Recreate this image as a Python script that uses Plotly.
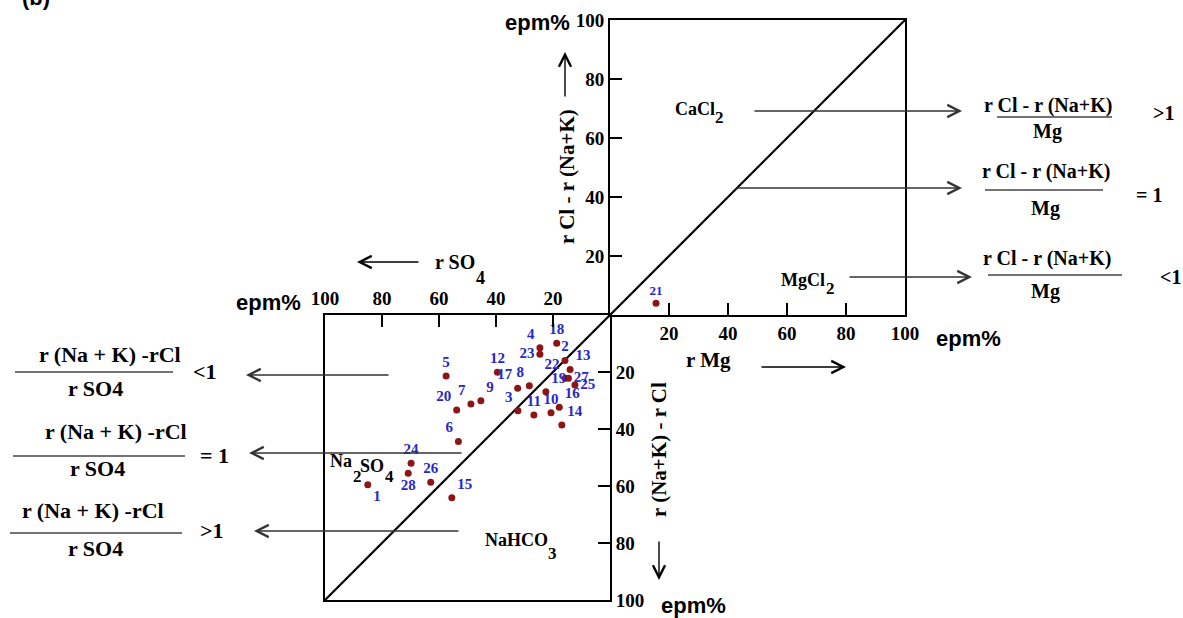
import plotly.graph_objects as go

W, H = 1183, 618

# ---- data: lower-left square (r SO4 epm% vs r(Na+K)-rCl epm%) ----
sample_ids = ['1', '2', '3', '4', '5', '6', '7', '8', '9', '10', '11', '12', '13', '14',
              '15', '16', '17', '18', '19', '20', '22', '23', '24', '25', '26', '27', '28']
r_so4 = [85.0, 15.8, 32.3, 24.6, 57.5, 53.2, 48.8, 28.3, 45.3, 20.7, 26.7, 39.5, 14.0, 16.9,
         55.5, 17.8, 32.4, 18.7, 22.5, 53.8, 15.8, 24.6, 69.8, 12.3, 62.9, 14.6, 70.8]
r_nak_cl = [59.6, 16.0, 33.6, 11.5, 21.4, 44.4, 31.2, 24.8, 30.1, 34.3, 35.1, 20.1, 19.1, 38.6,
            64.1, 32.4, 25.7, 9.9, 26.9, 33.3, 22.2, 13.8, 52.0, 24.6, 58.7, 22.2, 55.5]
# ---- data: upper-right square (r Mg epm% vs rCl - r(Na+K) epm%) ----
mg_ids = ['21']
r_mg = [15.6]
r_cl_nak = [4.0]

tick_vals = [20, 40, 60, 80, 100]
tick_text = ['20', '40', '60', '80', '100']

# label placement (style)
label_pos = ['bottom right', 'top center', 'top left', 'top left', 'top center', 'top left',
             'top left', 'top left', 'top right', 'top center', 'top center', 'top center',
             'top right', 'top right', 'top right', 'top right', 'top left', 'top center',
             'top right', 'top left', 'top left', 'middle left', 'top center', 'middle right',
             'top center', 'middle right', 'bottom center']

SERIF = 'Liberation Serif'
SANS = 'Liberation Sans'
DOT = '#8e1515'
LAB = '#2727c9'


def px(x):
    return x / W


def py(y):
    return 1 - y / H


fig = go.Figure()

# diagonals
fig.add_trace(go.Scatter(x=[0, 100], y=[0, 100], mode='lines', line=dict(color='black', width=2.2),
                         xaxis='x', yaxis='y', hoverinfo='skip'))
fig.add_trace(go.Scatter(x=[0, 100], y=[0, 100], mode='lines', line=dict(color='black', width=2.2),
                         xaxis='x2', yaxis='y2', hoverinfo='skip'))

# samples
fig.add_trace(go.Scatter(x=r_so4, y=r_nak_cl, mode='markers+text',
                         text=['<b>%s</b>' % s for s in sample_ids], textposition=label_pos,
                         textfont=dict(family=SERIF, size=15, color=LAB),
                         marker=dict(color=DOT, size=7), xaxis='x2', yaxis='y2', cliponaxis=False))
fig.add_trace(go.Scatter(x=r_mg, y=r_cl_nak, mode='markers+text',
                         text=['<b>%s</b>' % s for s in mg_ids], textposition='top center',
                         textfont=dict(family=SERIF, size=13, color=LAB),
                         marker=dict(color=DOT, size=7), xaxis='x', yaxis='y', cliponaxis=False))

tickfont = dict(family=SERIF, size=19, color='black')
common = dict(showline=True, linecolor='black', linewidth=2, mirror=True, ticks='inside',
              ticklen=12, tickwidth=2, tickcolor='black', tickvals=tick_vals,
              ticktext=['<b>%s</b>' % t for t in tick_text],
              tickfont=tickfont, showgrid=False, zeroline=False, fixedrange=True, automargin=False)

fig.update_layout(
    width=W, height=H, margin=dict(l=0, r=0, t=0, b=0, pad=0),
    paper_bgcolor='white', plot_bgcolor='rgba(0,0,0,0)', showlegend=False,
    xaxis=dict(domain=[px(610), px(905)], range=[0, 100], anchor='y', **common),
    yaxis=dict(domain=[py(315), py(20)], range=[0, 100], anchor='x', **common),
    xaxis2=dict(domain=[px(325), px(610)], range=[100, 0], anchor='y2', side='top', **common),
    yaxis2=dict(domain=[py(600), py(315)], range=[100, 0], anchor='x2', side='right', **common),
)

ann = []


def text(x, y, s, size=18, family=SERIF, bold=True, angle=0, xanchor='center'):
    ann.append(dict(x=px(x), y=py(y), xref='paper', yref='paper', text=('<b>%s</b>' % s) if bold else s,
                    showarrow=False, textangle=angle, xanchor=xanchor, yanchor='middle',
                    font=dict(family=family, size=size, color='black')))


def arrow(x0, y0, x1, y1, color='#333333', width=1.4, size=1.7):
    # tail (x0,y0) -> head (x1,y1), pixel coords
    ann.append(dict(x=px(x1), y=py(y1), xref='paper', yref='paper', text='', showarrow=True,
                    ax=x0 - x1, ay=y0 - y1, axref='pixel', ayref='pixel',
                    arrowhead=5, arrowsize=size, arrowwidth=width, arrowcolor=color))


shapes = []


def bar(x0, x1, y, width=1.6, color='#444444'):
    shapes.append(dict(type='line', xref='paper', yref='paper', x0=px(x0), x1=px(x1), y0=py(y), y1=py(y),
                       line=dict(color=color, width=width)))


# epm% labels
text(537, 22, 'epm%', size=22, family=SANS)
text(968, 338, 'epm%', size=22, family=SANS)
text(268, 302, 'epm%', size=22, family=SANS)
text(693, 605, 'epm%', size=22, family=SANS)
text(36, -3, '(b)', size=22, family=SANS)

# axis titles
text(567, 177, 'r Cl - r (Na+K)', size=21, angle=-90)
arrow(565, 98, 565, 52, color='black', width=1.4)
text(708, 360, 'r Mg', size=21)
arrow(760, 367, 846, 367, color='black', width=1.4)
text(659, 450, 'r (Na+K) - r Cl', size=21, angle=-90)
arrow(659, 540, 659, 580, color='black', width=1.4)
text(455, 262, 'r SO', size=20)
text(480, 278, '4', size=18)
arrow(420, 262, 357, 262, color='black', width=1.4)

# compound fields (subscripts placed low, as in the original)
text(695, 109, 'CaCl', size=18)
text(719, 117, '2', size=17)
text(803, 280, 'MgCl', size=18)
text(830, 289, '2', size=17)
text(341, 461, 'Na', size=18)
text(358, 476, '2', size=17)
text(372, 466, 'SO', size=18)
text(389, 476, '4', size=17)
text(516, 540, 'NaHCO', size=18)
text(552, 553, '3', size=17)

# right-side arrows and fractions
arrow(753, 111, 962, 111)
arrow(735, 188, 962, 188)
arrow(848, 277, 972, 277)
text(1048, 105, 'r Cl - r (Na+K)', size=20)
bar(997, 1112, 117)
text(1047, 131, 'Mg', size=20)
text(1163, 113, '&gt;1', size=20)
text(1046, 171, 'r Cl - r (Na+K)', size=20)
bar(985, 1103, 190)
text(1045, 208, 'Mg', size=20)
text(1149, 195, '= 1', size=20)
text(1047, 258, 'r Cl - r (Na+K)', size=20)
bar(988, 1122, 275)
text(1045, 291, 'Mg', size=20)
text(1170, 277, '&lt;1', size=20)

# left-side arrows and fractions
arrow(390, 375, 246, 375)
arrow(463, 453, 249, 453)
arrow(460, 531, 254, 531)
text(110, 354, 'r (Na + K) -rCl', size=22)
bar(15, 173, 372)
text(95, 388, 'r SO4', size=22)
text(205, 371, '&lt;1', size=22)
text(116, 431, 'r (Na + K) -rCl', size=22)
bar(13, 185, 456)
text(97, 468, 'r SO4', size=22)
text(214, 455, '= 1', size=22)
text(93, 510, 'r (Na + K) -rCl', size=22)
bar(10, 182, 533)
text(95, 548, 'r SO4', size=22)
text(212, 530, '&gt;1', size=22)

fig.update_layout(annotations=ann, shapes=shapes)
fig.write_html('out.html')
